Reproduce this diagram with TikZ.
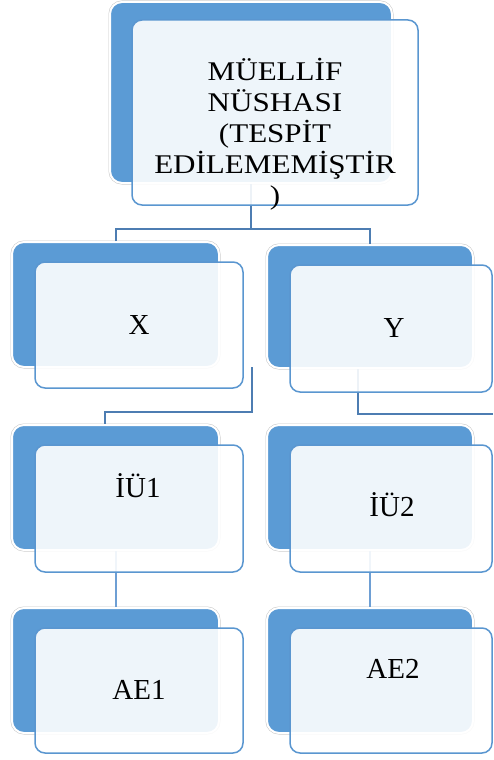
\documentclass[tikz,border=0pt]{standalone}
\usepackage{fontspec}
\setmainfont{Liberation Serif}
\newfontfamily\widefont{Liberation Serif}[FakeStretch=1.15]
\usetikzlibrary{fit}

\definecolor{backblue}{HTML}{5B9BD5}
\definecolor{frontblue}{HTML}{5A96D0}
\definecolor{linkdark}{HTML}{4D7DB2}
\definecolor{linklight}{HTML}{6E9FD4}

\begin{document}
\begin{tikzpicture}[
		x=1pt, y=-1pt,
		backbox/.style={preaction={draw=black!22, line width=3pt}, draw=white, line width=2pt,
			fill=backblue, rounded corners=12pt, inner sep=0pt},
		frontbox/.style={fill=white, fill opacity=0.9, draw=frontblue, line width=1.5pt,
			rounded corners=10pt, inner sep=0pt},
		link/.style={draw=linkdark, line width=2pt},
		linklite/.style={draw=linklight, line width=2pt},
		label/.style={font=\fontsize{29}{33}\selectfont, anchor=base, inner sep=0pt}
	]
		\useasboundingbox (0,0) rectangle (493,760);

		% back boxes
		\node[backbox, fit={(110,2) (392,183)}] (topback) {};
		\node[backbox, fit={(12,242) (219,367)}] (xback) {};
		\node[backbox, fit={(267,245) (473,368)}] (yback) {};
		\node[backbox, fit={(12,425) (219,550)}] (iu1back) {};
		\node[backbox, fit={(267,425) (473,550)}] (iu2back) {};
		\node[backbox, fit={(12,608) (219,733)}] (ae1back) {};
		\node[backbox, fit={(267,608) (473,733)}] (ae2back) {};

		% connectors
		\coordinate (j0) at (topback.south |- 0,229);
		\draw[link] (topback.south) -- (j0);
		\draw[link] (xback.north) |- (j0) -| (yback.north);

		\coordinate (xa) at (252,367);
		\coordinate (xb) at (105,412);
		\draw[link] (xa) |- (xb) -- (xb |- iu1back.north);

		\coordinate (ya) at (358,369);
		\coordinate (yb) at (493,414);
		\draw[link] (ya) |- (yb);

		\draw[linklite] (iu1back.south) -- (ae1back.north);
		\draw[linklite] (iu2back.south) -- (ae2back.north);

		% front boxes
		\node[frontbox, fit={(132,20) (418,205)}] (topfront) {};
		\node[frontbox, fit={(35,262) (243,388)}] (xfront) {};
		\node[frontbox, fit={(290,265) (492,392)}] (yfront) {};
		\node[frontbox, fit={(35,445) (243,572)}] (iu1front) {};
		\node[frontbox, fit={(290,445) (492,572)}] (iu2front) {};
		\node[frontbox, fit={(35,628) (243,753)}] (ae1front) {};
		\node[frontbox, fit={(290,628) (492,753)}] (ae2front) {};

		% labels
		\node[anchor=base, inner sep=0pt, align=center, font=\widefont\fontsize{27}{31}\selectfont]
			(toptext) at (275,204) {MÜELLİF\\NÜSHASI\\(TESPİT\\EDİLEMEMİŞTİR\\)};
		\node[label] (xtext) at (139,334) {X};
		\node[label] (ytext) at (394,337) {Y};
		\node[label] (iu1text) at (138,497) {İÜ1};
		\node[label] (iu2text) at (392,516) {İÜ2};
		\node[label] (ae1text) at (139,699) {AE1};
		\node[label] (ae2text) at (393,678) {AE2};
	\end{tikzpicture}
\end{document}
